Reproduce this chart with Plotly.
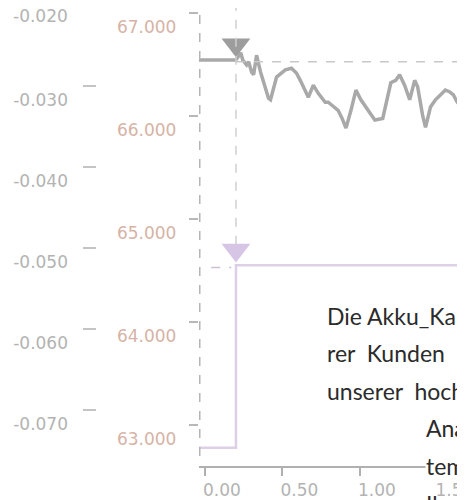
import plotly.graph_objects as go

GRAY = "#a9a9a9"
GRAY_TXT = "#b3b3b3"
TAN_TXT = "#d6b3a6"
LAVENDER = "#dccfe6"
LAVENDER_MK = "#d7c5e6"
TEXT = "#2b2b2b"
FONT = "DejaVu Sans"

# the figure lands about 8px right of and below the window corner
OFF_X, OFF_Y = 8, 8
W, H = 465, 492
PLOT_LEFT = 200 - OFF_X
PLOT_BOTTOM = 466 - OFF_Y

# gray signal (outer left axis)
sig_x = [-0.04, 0.186, 0.199, 0.218, 0.231, 0.244, 0.269, 0.282, 0.301, 0.314,
         0.333, 0.359, 0.385, 0.410, 0.423, 0.442, 0.462, 0.487, 0.519, 0.558,
         0.590, 0.615, 0.635, 0.667, 0.699, 0.731, 0.776, 0.795, 0.827, 0.859,
         0.885, 0.910, 0.942, 0.974, 1.006, 1.051, 1.096, 1.147, 1.179, 1.199,
         1.231, 1.256, 1.288, 1.321, 1.353, 1.372, 1.404, 1.423, 1.455, 1.487,
         1.519, 1.551, 1.577, 1.603, 1.628, 1.660, 1.690, 1.710]
sig_y = [-0.0268, -0.0268, -0.0268, -0.0263, -0.0259, -0.0268, -0.0274, -0.0270, -0.0283, -0.0286,
         -0.0262, -0.0283, -0.0299, -0.0315, -0.0317, -0.0305, -0.0289, -0.0285, -0.0280, -0.0278,
         -0.0284, -0.0293, -0.0301, -0.0314, -0.0299, -0.0309, -0.0320, -0.0320, -0.0325, -0.0330,
         -0.0340, -0.0352, -0.0330, -0.0305, -0.0317, -0.0330, -0.0342, -0.0340, -0.0314, -0.0296,
         -0.0293, -0.0286, -0.0299, -0.0317, -0.0293, -0.0301, -0.0336, -0.0351, -0.0326, -0.0317,
         -0.0311, -0.0305, -0.0307, -0.0311, -0.0320, -0.0326, -0.0333, -0.0330]
sig_ref = -0.0270
trigger_x = 0.20
sig_marker_y = -0.0249

# lavender step (inner axis)
step_x = [-0.04, 0.20, 1.71]
step_y = [62.78, 64.55, 64.55]
step_marker_y = 64.70

gray_ticks = [-0.030, -0.040, -0.050, -0.060, -0.070]
gray_labels = ["-0.030", "-0.040", "-0.050", "-0.060", "-0.070"]
tan_ticks = [63, 64, 65, 66, 67]
tan_labels = ["63.000", "64.000", "65.000", "66.000", "67.000"]
x_ticks = [0.0, 0.5, 1.0, 1.5]
x_labels = ["0.00", "0.50", "1.00", "1.50"]

SP = "\u00a0"
text_lines = [
    ("Die Akku_Kapazität", 328, 316),
    ("rer" + SP * 2 + "Kunden" + SP * 2 + "ein", 328, 353),
    ("unserer" + SP * 2 + "hochentwickelten", 328, 391),
    ("Analyse", 428, 428),
    ("temperatur", 428, 466),
    ("Ihre", 428, 504),
]


def px(rx):
    return (rx - OFF_X) / W


def py(ry):
    return 1 - (ry - OFF_Y) / PLOT_BOTTOM


fig = go.Figure()
fig.add_trace(go.Scatter(
    x=step_x, y=step_y, mode="lines", line=dict(color=LAVENDER, width=2.5, shape="hv"),
    yaxis="y", hoverinfo="skip",
))
fig.add_trace(go.Scatter(
    x=[trigger_x], y=[step_marker_y], mode="markers",
    marker=dict(symbol="triangle-down", size=25, color=LAVENDER_MK), yaxis="y",
))
fig.add_trace(go.Scatter(
    x=sig_x, y=sig_y, mode="lines", line=dict(color=GRAY, width=3.5),
    yaxis="y2", hoverinfo="skip",
))
fig.add_trace(go.Scatter(
    x=[trigger_x], y=[sig_marker_y], mode="markers",
    marker=dict(symbol="triangle-down", size=25, color="#9d9d9d"), yaxis="y2",
))

# guide lines
fig.add_shape(type="line", xref="x", yref="y2", x0=trigger_x, x1=1.71, y0=sig_ref, y1=sig_ref,
              line=dict(color="#c8c8c8", width=1.5, dash="dash"))
fig.add_shape(type="line", xref="x", yref="y", x0=trigger_x, x1=trigger_x, y0=64.75, y1=67.05,
              line=dict(color="#cfcfcf", width=1.5, dash="dash"))
fig.add_shape(type="line", xref="x", yref="y", x0=0.04, x1=0.17, y0=64.53, y1=64.53,
              line=dict(color="#cdbfd6", width=1.5, dash="dash"))
fig.add_shape(type="line", xref="paper", yref="y", x0=px(201), x1=px(201),
              y0=62.70, y1=67.05, line=dict(color="#b5b5b5", width=1.5, dash="dash"))

# top label of the gray axis sits above the plotting area
fig.add_annotation(text="-0.020", xref="paper", yref="paper", x=px(70), y=py(16),
                   xanchor="right", yanchor="middle", showarrow=False,
                   font=dict(family=FONT, size=17, color=GRAY_TXT))

for i, (txt, rx, ry) in enumerate(text_lines):
    fig.add_annotation(
        text=txt, xref="paper", yref="paper", x=px(rx), y=py(ry),
        xanchor="left", yanchor="middle", showarrow=False, align="left",
        font=dict(family="Lato", size=23, color=TEXT),
        bgcolor="white" if i < 5 else "rgba(0,0,0,0)", borderpad=0,
    )

fig.update_layout(
    width=W, height=H,
    margin=dict(l=0, r=0, t=0, b=H - PLOT_BOTTOM),
    paper_bgcolor="white", plot_bgcolor="white",
    showlegend=False,
    font=dict(family=FONT, size=17),
    xaxis=dict(
        domain=[PLOT_LEFT / W, 1], range=[-0.04, 1.71],
        tickvals=x_ticks, ticktext=x_labels,
        showgrid=False, zeroline=False,
        showline=True, linecolor="#b0b0b0", linewidth=1.5,
        ticks="outside", ticklen=8, tickcolor="#b0b0b0", tickwidth=1.5,
        tickfont=dict(color=GRAY_TXT, size=17), ticklabelshift=17,
        ticklabeloverflow="allow",
    ),
    yaxis=dict(
        range=[62.602, 67.0485], tickvals=tan_ticks, ticktext=tan_labels,
        anchor="x", side="left",
        showgrid=False, zeroline=False, showline=False,
        ticks="outside", ticklen=9, tickcolor="#b8b8b8", tickwidth=1.5,
        tickfont=dict(color=TAN_TXT, size=17),
        ticklabelstandoff=9, ticklabelshift=14, ticklabeloverflow="allow",
    ),
    yaxis2=dict(
        range=[-0.07691, -0.02037], tickvals=gray_ticks, ticktext=gray_labels,
        overlaying="y", anchor="free", position=(97 - OFF_X) / W, side="left",
        showgrid=False, zeroline=False, showline=False,
        ticks="outside", ticklen=13, tickcolor="#c4c4c4", tickwidth=1.5,
        tickfont=dict(color=GRAY_TXT, size=17),
        ticklabelstandoff=12, ticklabelshift=14, ticklabeloverflow="allow",
    ),
)

fig.write_html("out.html")
